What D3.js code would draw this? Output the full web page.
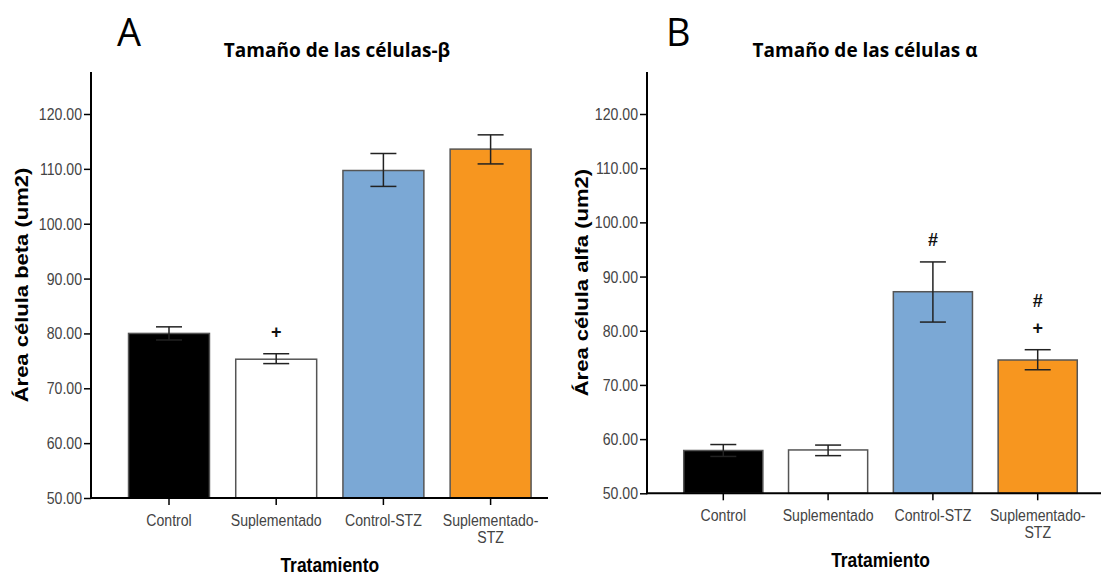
<!DOCTYPE html>
<html>
<head>
<meta charset="utf-8">
<script src="https://cdn.jsdelivr.net/npm/d3@7"></script>
<style>
  body { margin: 0; background: #fff; }
  svg { display: block; }
</style>
</head>
<body>
<div id="main"></div>
<script>
// data
const categories = ['Control', 'Suplementado', 'Control-STZ', 'Suplementado-STZ'];
const betaMean = [80.0, 75.3, 109.7, 113.6];
const betaLow = [78.8, 74.5, 106.8, 110.9];
const betaHigh = [81.2, 76.3, 112.8, 116.2];
const betaMarks = ['', '+', '', ''];
const alphaMean = [57.9, 58.0, 87.2, 74.6];
const alphaLow = [56.8, 56.95, 81.6, 72.8];
const alphaHigh = [59.0, 58.9, 92.7, 76.5];
const alphaMarks = ['', '', '#', '+#'];
const yTicks = [50, 60, 70, 80, 90, 100, 110, 120];
const barColors = ['#000000', '#ffffff', '#7ba8d5', '#f7961f'];

const W = 1103, H = 577;
const squish = 0.83; // the SPSS chart was stretched narrower

const svg = d3.select('#main')
  .append('svg')
  .attr('width', W)
  .attr('height', H);

svg.append('rect').attr('width', W).attr('height', H).attr('fill', '#fff');

// text squeezed across, anchored at (x, y)
function narrowText(parent, x, y, str, anchor) {
  return parent.append('text')
    .attr('transform', `translate(${x},${y}) scale(${squish},1)`)
    .attr('text-anchor', anchor)
    .style('font-family', '"Liberation Sans", Arial, sans-serif')
    .text(str);
}

function drawPanel(p) {
  const g = svg.append('g');

  const x = d3.scaleBand()
    .domain(categories)
    .range([p.bandLeft, p.bandRight])
    .paddingInner(0.245)
    .paddingOuter(0.1225);

  const y = d3.scaleLinear()
    .domain([50, 120])
    .range([p.base, p.top120]);

  // y axis ticks
  const yAxis = g.append('g')
    .attr('transform', `translate(${p.axisX},0)`)
    .call(d3.axisLeft(y).tickValues(yTicks).tickFormat('').tickSize(7).tickSizeOuter(0));
  yAxis.select('.domain').remove();
  yAxis.selectAll('.tick line').attr('stroke', '#000').attr('stroke-width', 1.5);
  yTicks.forEach(v => {
    narrowText(g, p.axisX - 9, y(v), d3.format('.2f')(v), 'end')
      .attr('dy', '0.35em')
      .attr('fill', '#444')
      .style('font-size', '17px');
  });

  // bars
  g.selectAll('rect.bar')
    .data(p.mean)
    .join('rect')
    .attr('class', 'bar')
    .attr('x', (d, i) => x(categories[i]))
    .attr('width', x.bandwidth())
    .attr('y', d => y(d))
    .attr('height', d => y(50) - y(d))
    .attr('fill', (d, i) => barColors[i])
    .attr('stroke', '#555')
    .attr('stroke-width', 1.5);

  // error bars
  const cap = 13;
  const eb = g.selectAll('g.err')
    .data(p.mean)
    .join('g')
    .attr('class', 'err')
    .attr('stroke', '#222')
    .attr('stroke-width', 1.5);
  eb.append('line')
    .attr('x1', (d, i) => x(categories[i]) + x.bandwidth() / 2)
    .attr('x2', (d, i) => x(categories[i]) + x.bandwidth() / 2)
    .attr('y1', (d, i) => y(p.low[i]))
    .attr('y2', (d, i) => y(p.high[i]));
  eb.append('line')
    .attr('x1', (d, i) => x(categories[i]) + x.bandwidth() / 2 - cap)
    .attr('x2', (d, i) => x(categories[i]) + x.bandwidth() / 2 + cap)
    .attr('y1', (d, i) => y(p.high[i]))
    .attr('y2', (d, i) => y(p.high[i]));
  eb.append('line')
    .attr('x1', (d, i) => x(categories[i]) + x.bandwidth() / 2 - cap)
    .attr('x2', (d, i) => x(categories[i]) + x.bandwidth() / 2 + cap)
    .attr('y1', (d, i) => y(p.low[i]))
    .attr('y2', (d, i) => y(p.low[i]));

  // significance marks, stacked upward from the error bar top
  p.marks.forEach((m, i) => {
    m.split('').forEach((ch, k) => {
      g.append('text')
        .attr('x', x(categories[i]) + x.bandwidth() / 2)
        .attr('y', y(p.high[i]) - 22 - k * 27)
        .attr('text-anchor', 'middle')
        .attr('dominant-baseline', 'central')
        .style('font-family', '"Liberation Sans", Arial, sans-serif')
        .style('font-size', '18px')
        .style('font-weight', 'bold')
        .attr('fill', '#111')
        .text(ch);
    });
  });

  // axis lines
  g.append('line')
    .attr('x1', p.axisX).attr('x2', p.axisX)
    .attr('y1', p.axisTop).attr('y2', p.base + 1)
    .attr('stroke', '#000').attr('stroke-width', 2);
  g.append('line')
    .attr('x1', p.axisX).attr('x2', p.axisRight)
    .attr('y1', p.base).attr('y2', p.base)
    .attr('stroke', '#000').attr('stroke-width', 2);

  // x ticks and labels
  categories.forEach((c, i) => {
    const cx = x(c) + x.bandwidth() / 2;
    g.append('line')
      .attr('x1', cx).attr('x2', cx)
      .attr('y1', p.base).attr('y2', p.base + 7)
      .attr('stroke', '#000').attr('stroke-width', 1.5);
    const parts = c === 'Suplementado-STZ' ? ['Suplementado-', 'STZ'] : [c];
    parts.forEach((t, k) => {
      narrowText(g, cx, p.base + 28 + k * 17, t, 'middle')
        .attr('fill', '#444')
        .style('font-size', '17px');
    });
  });

  // x title
  narrowText(g, (p.bandLeft + p.bandRight) / 2, p.base + 74, 'Tratamiento', 'middle')
    .style('font-size', '21px')
    .style('font-weight', 'bold')
    .attr('fill', '#000');

  // y title, rotated and squeezed across
  g.append('text')
    .attr('transform', `translate(${p.yTitleX},${(p.axisTop + p.base) / 2}) scale(${squish},1) rotate(-90)`)
    .attr('text-anchor', 'middle')
    .attr('dominant-baseline', 'central')
    .style('font-family', '"Liberation Sans", Arial, sans-serif')
    .style('font-size', '22px')
    .style('font-weight', 'bold')
    .attr('fill', '#000')
    .text(p.yTitle);

  // panel letter and title
  g.append('text')
    .attr('x', p.letterX)
    .attr('y', 46)
    .style('font-family', '"Open Sans", "Noto Sans", sans-serif')
    .style('font-size', '38px')
    .attr('fill', '#000')
    .text(p.letter);
  g.append('text')
    .attr('x', p.titleX)
    .attr('y', 57)
    .attr('text-anchor', 'middle')
    .style('font-family', '"Open Sans", "Noto Sans", sans-serif')
    .style('font-size', '19px')
    .style('font-weight', 'bold')
    .attr('fill', '#000')
    .text(p.title);
}

drawPanel({
  mean: betaMean, low: betaLow, high: betaHigh, marks: betaMarks,
  bandLeft: 115.4, bandRight: 544.2,
  axisX: 91, axisRight: 548, axisTop: 72,
  base: 498, top120: 114,
  yTitleX: 22, yTitle: 'Área célula beta (um2)',
  letter: 'A', letterX: 117,
  title: 'Tamaño de las células-β', titleX: 337
});

drawPanel({
  mean: alphaMean, low: alphaLow, high: alphaHigh, marks: alphaMarks,
  bandLeft: 670.9, bandRight: 1090.1,
  axisX: 647, axisRight: 1101, axisTop: 72,
  base: 493.3, top120: 114,
  yTitleX: 582, yTitle: 'Área célula alfa (um2)',
  letter: 'B', letterX: 666,
  title: 'Tamaño de las células α', titleX: 865
});
</script>
</body>
</html>
